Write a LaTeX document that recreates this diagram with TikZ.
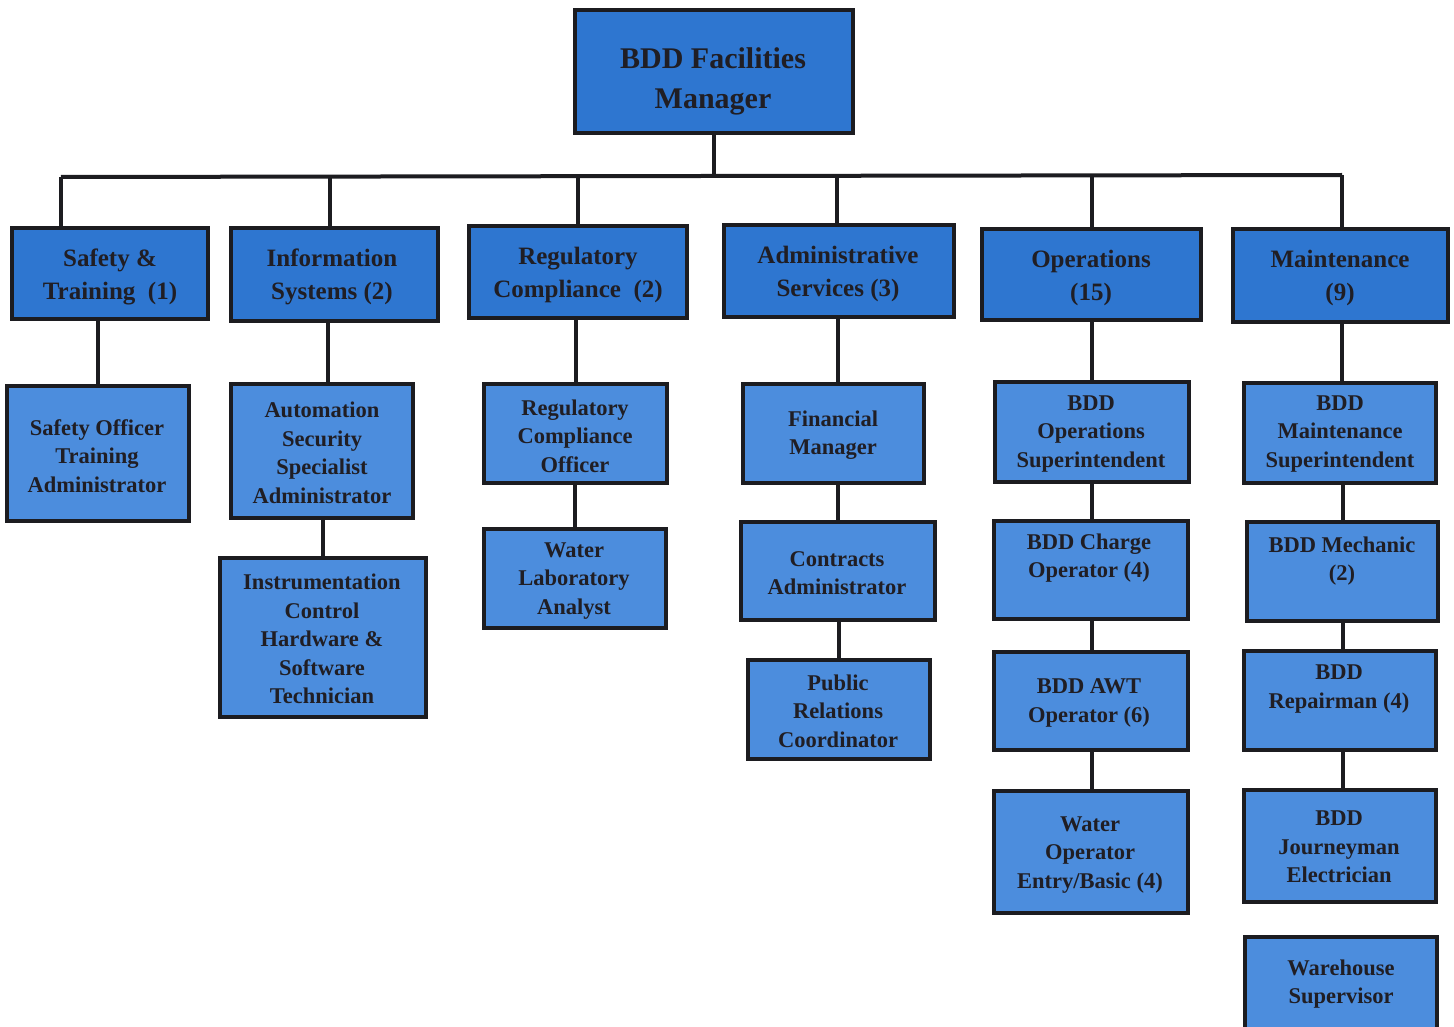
\documentclass[tikz,border=0pt]{standalone}
\usepackage{fontspec}
\setmainfont{Liberation Serif}
\usetikzlibrary{fit}
\definecolor{blueA}{RGB}{46,118,208}
\definecolor{blueB}{RGB}{76,141,221}
\definecolor{edge}{RGB}{28,28,32}
\definecolor{ink}{RGB}{32,30,36}
\tikzset{
  boxA/.style={draw=edge, fill=blueA, line width=3.5pt, inner sep=0pt},
  boxB/.style={draw=edge, fill=blueB, line width=3.5pt, inner sep=0pt},
  txt/.style={text=ink, align=center, inner sep=0pt},
  tTop/.style={txt, font=\fontsize{30}{40}\selectfont\bfseries},
  tA/.style={txt, font=\fontsize{25}{33}\selectfont\bfseries},
  tB/.style={txt, font=\fontsize{22.5}{28.5}\selectfont\bfseries},
  link/.style={draw=edge, line width=4pt},
}
% #1 name, #2 box style, #3 text style, #4 corners, #5 text centre, #6 text
\newcommand\obox[6]{%
  \node[#2, fit={#4}] (#1) {};
  \node[#3] (#1t) at #5 {#6};}
\begin{document}
\begin{tikzpicture}[x=1pt,y=-1pt]
\useasboundingbox[fill=white] (0,0) rectangle (1454,1027);

% top
\obox{top}{boxA}{tTop}{(575,10) (853,133)}{(713,81)}{BDD Facilities\\Manager}

% level 2
\obox{st}{boxA}{tA}{(12,228) (208,319)}{(110,277)}{Safety \&\\Training~~(1)}
\obox{is}{boxA}{tA}{(231,228) (438,321)}{(332,277)}{Information\\Systems (2)}
\obox{rc}{boxA}{tA}{(469,226) (687,318)}{(578,275)}{Regulatory\\Compliance~~(2)}
\obox{as}{boxA}{tA}{(724,225) (954,317)}{(838,274)}{Administrative\\Services (3)}
\obox{op}{boxA}{tA}{(982,229) (1201,320)}{(1091,278)}{Operations\\(15)}
\obox{mt}{boxA}{tA}{(1233,229) (1448,322)}{(1340,278)}{Maintenance\\(9)}

% level 3
\obox{so}{boxB}{tB}{(7,386) (189,521)}{(97,456)}{Safety Officer\\Training\\Administrator}
\obox{au}{boxB}{tB}{(231,384) (413,518)}{(322,453)}{Automation\\Security\\Specialist\\Administrator}
\obox{ins}{boxB}{tB}{(220,558) (426,717)}{(322,639)}{Instrumentation\\Control\\Hardware \&\\Software\\Technician}
\obox{rco}{boxB}{tB}{(484,384) (667,483)}{(575,436)}{Regulatory\\Compliance\\Officer}
\obox{wla}{boxB}{tB}{(484,529) (666,628)}{(574,581)}{Water\\Laboratory\\Analyst}
\obox{fm}{boxB}{tB}{(743,384) (924,483)}{(833,435)}{Financial\\Manager}
\obox{ca}{boxB}{tB}{(741,522) (935,620)}{(837,573)}{Contracts\\Administrator}
\obox{pr}{boxB}{tB}{(748,660) (930,759)}{(838,711)}{Public\\Relations\\Coordinator}
\obox{bos}{boxB}{tB}{(995,382) (1189,482)}{(1091,434)}{BDD\\Operations\\Superintendent}
\obox{bco}{boxB}{tB}{(994,521) (1188,619)}{(1089,558)}{BDD Charge\\Operator (4)}
\obox{awt}{boxB}{tB}{(994,652) (1188,750)}{(1089,703)}{BDD AWT\\Operator (6)}
\obox{wo}{boxB}{tB}{(994,791) (1188,913)}{(1090,855)}{Water\\Operator\\Entry/Basic (4)}
\obox{bms}{boxB}{tB}{(1244,383) (1436,483)}{(1340,434)}{BDD\\Maintenance\\Superintendent}
\obox{bm}{boxB}{tB}{(1247,522) (1438,621)}{(1342,561)}{BDD Mechanic\\(2)}
\obox{br}{boxB}{tB}{(1244,651) (1436,750)}{(1339,689)}{BDD\\Repairman (4)}
\obox{je}{boxB}{tB}{(1244,790) (1436,902)}{(1339,847)}{BDD\\Journeyman\\Electrician}
\obox{ws}{boxB}{tB}{(1245,937) (1437,1045)}{(1341,984)}{Warehouse\\Supervisor}

% bus
\coordinate (busL) at (61,177);
\coordinate (busR) at (1342,175);
\draw[link] (busL) -- (busR);
\draw[link] (top.south) -- (top.south |- busL);
\draw[link] (busL) -- (busL |- st.north);
\draw[link] (330,0 |- busL) -- (330,0 |- is.north);
\draw[link] (578,0 |- busL) -- (578,0 |- rc.north);
\draw[link] (837,0 |- busL) -- (837,0 |- as.north);
\draw[link] (1092,0 |- busR) -- (1092,0 |- op.north);
\draw[link] (busR) -- (busR |- mt.north);

% level 3 links
\draw[link] (so.north |- st.south) -- (so.north);
\draw[link] (328,0 |- is.south) -- (328,0 |- au.north);
\draw[link] (ins.north |- au.south) -- (ins.north);
\draw[link] (rco.north |- rc.south) -- (rco.north);
\draw[link] (wla.north |- rco.south) -- (wla.north);
\draw[link] (838,0 |- as.south) -- (838,0 |- fm.north);
\draw[link] (ca.north |- fm.south) -- (ca.north);
\draw[link] (pr.north |- ca.south) -- (pr.north);
\draw[link] (1092,0 |- op.south) -- (1092,0 |- bos.north);
\draw[link] (1092,0 |- bos.south) -- (1092,0 |- bco.north);
\draw[link] (1092,0 |- bco.south) -- (1092,0 |- awt.north);
\draw[link] (1092,0 |- awt.south) -- (1092,0 |- wo.north);
\draw[link] (1342,0 |- mt.south) -- (1342,0 |- bms.north);
\draw[link] (1343,0 |- bms.south) -- (1343,0 |- bm.north);
\draw[link] (1343,0 |- bm.south) -- (1343,0 |- br.north);
\draw[link] (1343,0 |- br.south) -- (1343,0 |- je.north);
\end{tikzpicture}
\end{document}
